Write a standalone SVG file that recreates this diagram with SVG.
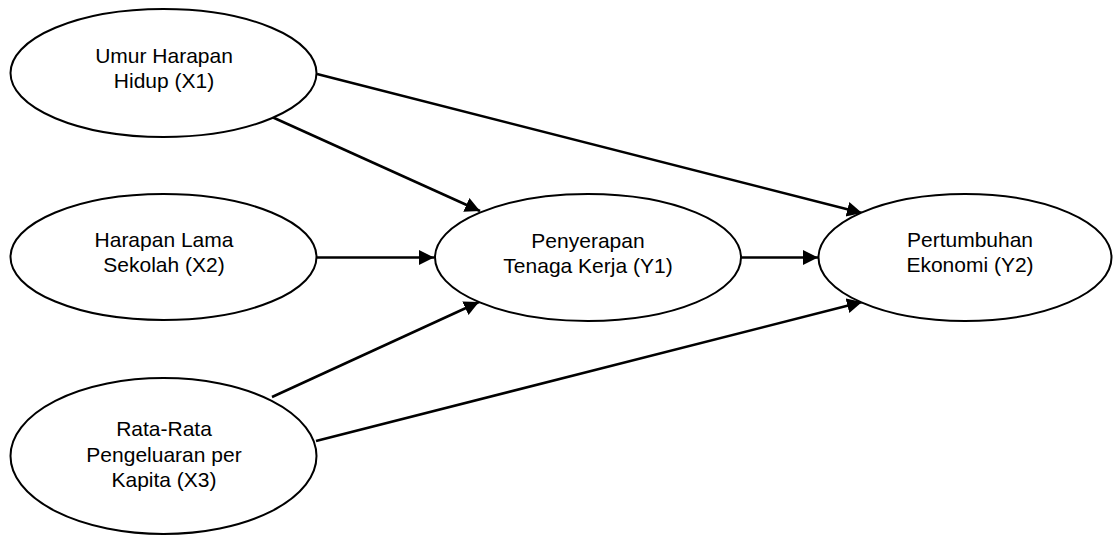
<svg xmlns="http://www.w3.org/2000/svg" width="1113" height="535" viewBox="0 0 1113 535">
<defs>
<style>
.node ellipse{fill:#fff;stroke:#000;stroke-width:2}
.node text{font-family:"Liberation Sans",Arial,sans-serif;font-size:21px;fill:#000;text-anchor:middle}
.edge{stroke:#000;stroke-width:2.5;fill:none;marker-end:url(#ah)}
</style>
<marker id="ah" markerUnits="userSpaceOnUse" markerWidth="16" markerHeight="16" refX="15" refY="7.5" orient="auto">
<path d="M0,0 L15,7.5 L0,15 Z" fill="#000"/>
</marker>
</defs>
<rect width="1113" height="535" fill="#fff"/>
<g id="connectors">
<line class="edge" x1="317" y1="74" x2="862" y2="213"/>
<line class="edge" x1="272" y1="117" x2="480" y2="211"/>
<line class="edge" x1="316" y1="257.5" x2="434" y2="257.5"/>
<line class="edge" x1="272" y1="397" x2="479" y2="302"/>
<line class="edge" x1="316" y1="441" x2="862" y2="302"/>
<line class="edge" x1="741" y1="257.5" x2="818" y2="257.5"/>
</g>
<g id="X1" class="node">
<ellipse cx="163.5" cy="73" rx="153" ry="64"/>
<text x="164" y="63">Umur Harapan</text>
<text x="164" y="88">Hidup (X1)</text>
</g>
<g id="X2" class="node">
<ellipse cx="163.5" cy="257" rx="153" ry="63"/>
<text x="164" y="247">Harapan Lama</text>
<text x="164" y="272">Sekolah (X2)</text>
</g>
<g id="X3" class="node">
<ellipse cx="163.5" cy="456" rx="153" ry="78"/>
<text x="164" y="436">Rata-Rata</text>
<text x="164" y="462">Pengeluaran per</text>
<text x="164" y="487">Kapita (X3)</text>
</g>
<g id="Y1" class="node">
<ellipse cx="588" cy="257.5" rx="153" ry="63.5"/>
<text x="588" y="248">Penyerapan</text>
<text x="588" y="273">Tenaga Kerja (Y1)</text>
</g>
<g id="Y2" class="node">
<ellipse cx="965" cy="257.5" rx="146.5" ry="63.5"/>
<text x="970" y="247">Pertumbuhan</text>
<text x="970" y="272">Ekonomi (Y2)</text>
</g>
</svg>
